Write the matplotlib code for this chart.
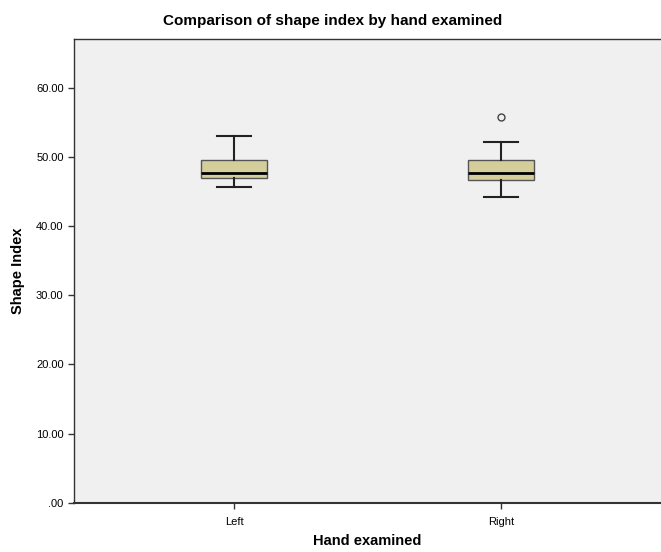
import matplotlib
matplotlib.use("Agg")
import matplotlib.pyplot as plt
from matplotlib.ticker import FuncFormatter

plt.rcParams['font.family'] = ['Liberation Sans', 'DejaVu Sans']

# values
groups = ['Left', 'Right']
whisker_low = [45.7, 44.2]
q1 = [46.9, 46.7]
median = [47.6, 47.6]
q3 = [49.5, 49.5]
whisker_high = [53.0, 52.2]
outliers = [[], [55.8]]

stats = []
for i, g in enumerate(groups):
    stats.append({'label': g, 'whislo': whisker_low[i], 'q1': q1[i], 'med': median[i],
                  'q3': q3[i], 'whishi': whisker_high[i], 'fliers': outliers[i]})

fig = plt.figure(figsize=(6.61, 5.52), dpi=100)
ax = fig.add_axes([0.112, 0.089, 0.888, 0.84])
ax.set_facecolor('#f0f0f0')

ax.bxp(stats, positions=[1, 2], widths=0.25, patch_artist=True,
       boxprops=dict(facecolor='#d4cf9a', edgecolor='#555555', linewidth=1.0),
       medianprops=dict(color='black', linewidth=2.0),
       whiskerprops=dict(color='#222222', linewidth=1.5),
       capprops=dict(color='#222222', linewidth=1.5),
       capwidths=0.125,
       flierprops=dict(marker='o', markerfacecolor='none', markeredgecolor='#444444',
                       markersize=5, markeredgewidth=1.0))

ax.set_xlim(0.4, 2.6)
ax.set_ylim(0, 67)
ax.set_yticks([0, 10, 20, 30, 40, 50, 60])
ax.yaxis.set_major_formatter(FuncFormatter(lambda v, p: '.00' if v == 0 else '%.2f' % v))
ax.tick_params(axis='both', labelsize=8, color='#333333', length=4, width=1, direction='out')
ax.tick_params(axis='x', pad=6)

for s in ['left', 'bottom', 'top']:
    ax.spines[s].set_color('#333333')
    ax.spines[s].set_linewidth(1.0)
ax.spines['bottom'].set_linewidth(1.5)
ax.spines['right'].set_visible(False)

ax.set_xlabel('Hand examined', fontsize=10.5, fontweight='bold', labelpad=5)
ax.set_ylabel('Shape Index', fontsize=10.5, fontweight='bold', labelpad=8)
ax.set_title('Comparison of shape index by hand examined', fontsize=11, fontweight='bold',
             pad=10, x=0.441)

fig.savefig('out.png', dpi=100)
